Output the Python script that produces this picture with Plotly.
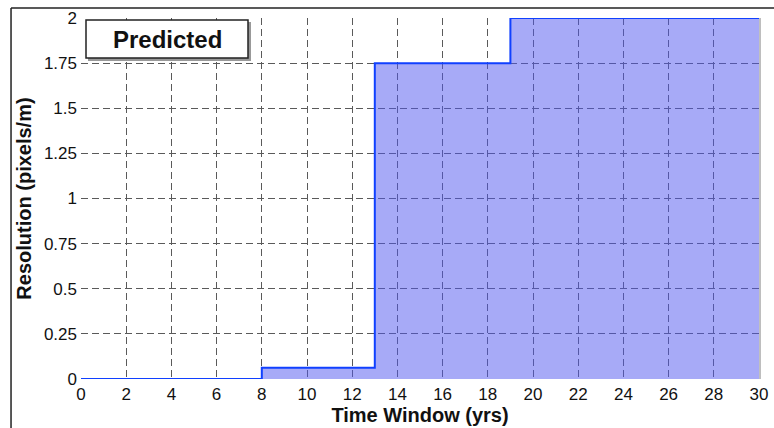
import plotly.graph_objects as go

# Data
time_yrs = [0, 8, 13, 19, 30]
resolution = [0, 0.0625, 1.75, 2, 2]
x_ticks = list(range(0, 31, 2))
y_ticks = [0, 0.25, 0.5, 0.75, 1, 1.25, 1.5, 1.75, 2]
y_tick_labels = ["0", "0.25", "0.5", "0.75", "1", "1.25", "1.5", "1.75", "2"]

FONT = "Liberation Sans, Arial, Helvetica, sans-serif"

fig = go.Figure()
fig.add_trace(go.Scatter(
    x=time_yrs, y=resolution,
    mode="lines", line=dict(shape="hv", color="#1040ff", width=2),
    fill="tozeroy", fillcolor="rgba(80,85,240,0.5)",
    hoverinfo="skip", showlegend=False,
))

fig.update_layout(
    width=774, height=428,
    margin=dict(l=81, r=15, t=18, b=49, autoexpand=False),
    paper_bgcolor="white", plot_bgcolor="white",
    font=dict(family=FONT, size=17, color="#111"),
    xaxis=dict(
        range=[0, 30], tickmode="array", tickvals=x_ticks, automargin=False,
        showgrid=True, gridcolor="#5a5a5a", griddash="7px,4px", gridwidth=1,
        zeroline=False, showline=False, ticks="", ticklen=0, ticklabelstandoff=3,
        title=dict(text="<b>Time Window (yrs)</b>", font=dict(size=20, family=FONT, color="#111"), standoff=0),
    ),
    yaxis=dict(
        range=[0, 2], tickmode="array", tickvals=y_ticks, ticktext=y_tick_labels, automargin=False,
        showgrid=True, gridcolor="#5a5a5a", griddash="7px,4px", gridwidth=1,
        zeroline=False, showline=False, ticks="", ticklen=0, ticklabelstandoff=3,
        title=dict(text="<b>Resolution (pixels/m)</b>", font=dict(size=20, family=FONT, color="#111"), standoff=6),
    ),
    shapes=[
        # right plot border
        dict(type="line", xref="paper", yref="paper", x0=1.0015, x1=1.0015, y0=0, y1=1,
             line=dict(color="#aaaaaa", width=1.5), layer="above"),
        # outer frame (top and left)
        dict(type="line", xref="paper", yref="paper", x0=-0.1032, x1=1.03, y0=1.0277, y1=1.0277,
             line=dict(color="#222", width=1.5)),
        dict(type="line", xref="paper", yref="paper", x0=-0.1032, x1=-0.1032, y0=1.0277, y1=-0.2,
             line=dict(color="#222", width=1.5)),
        # legend-box shadow
        dict(type="rect", xref="paper", yref="paper",
             x0=(88 - 81) / 678, x1=(251 - 81) / 678,
             y0=(379 - 61) / 361, y1=(379 - 22) / 361,
             fillcolor="#999", line=dict(width=0), layer="above"),
        dict(type="rect", xref="paper", yref="paper",
             x0=(86 - 81) / 678, x1=(248 - 81) / 678,
             y0=(379 - 58) / 361, y1=(379 - 20) / 361,
             fillcolor="white", line=dict(color="#222", width=1.5), layer="above"),
    ],
    annotations=[
        dict(text="<b>Predicted</b>", xref="paper", yref="paper",
             x=(167 - 81) / 678, y=(379 - 39) / 361, xanchor="center", yanchor="middle",
             showarrow=False, font=dict(size=24, family=FONT, color="#111")),
    ],
)

fig.write_html("out.html", config={"displayModeBar": False},
               post_script="document.body.style.margin='0';document.body.style.overflow='hidden';")
